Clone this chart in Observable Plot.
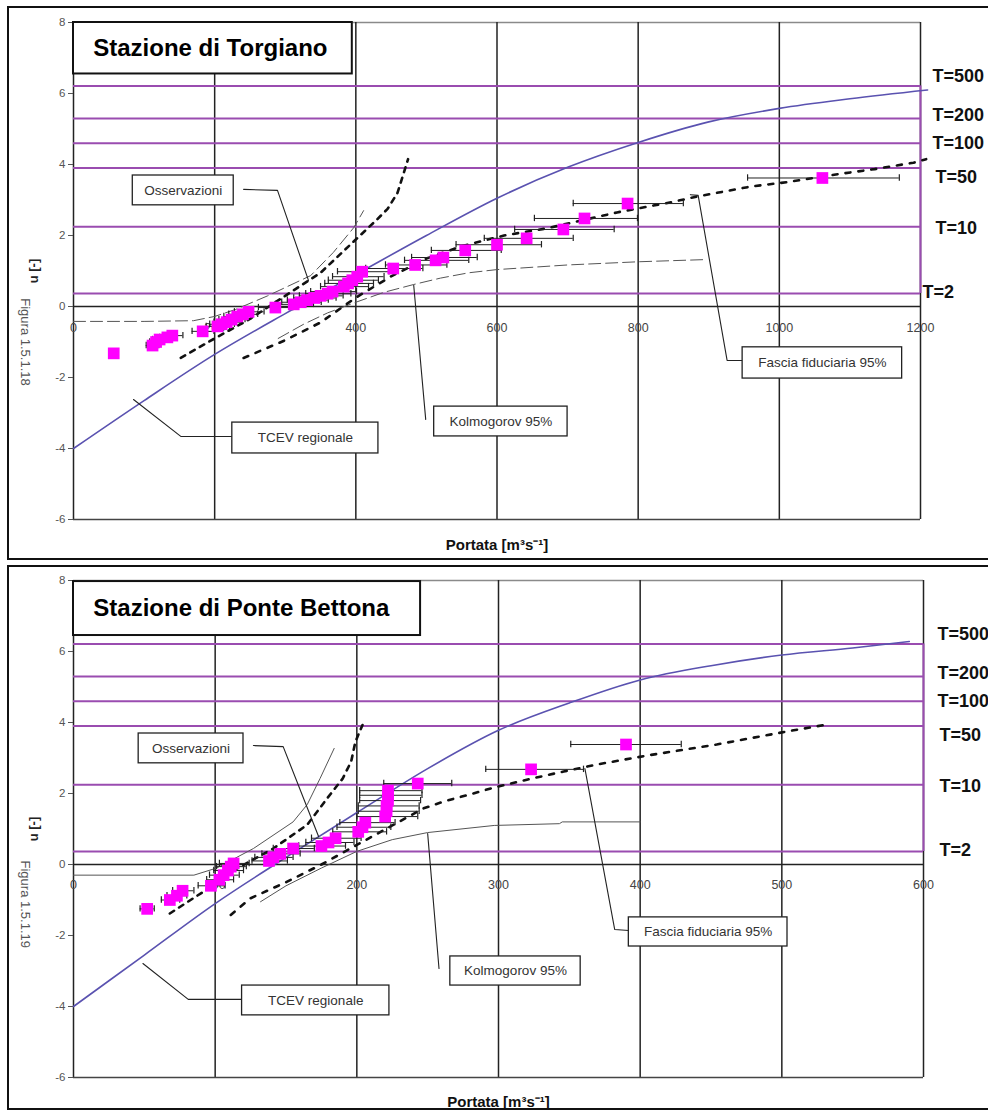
<!DOCTYPE html>
<html><head><meta charset="utf-8">
<script src="https://cdn.jsdelivr.net/npm/d3@7"></script>
<script src="https://cdn.jsdelivr.net/npm/@observablehq/plot@0.6"></script>
<style>
html,body{margin:0;padding:0;background:#fff;width:988px;height:1110px;overflow:hidden;}
#wrap{position:relative;width:988px;height:1110px;overflow:hidden;}
.frame{position:absolute;border:2px solid #111;box-sizing:border-box;pointer-events:none;}
.panel{position:absolute;left:0;}
</style></head><body><div id="wrap"></div>
<script>
// ---------- shared ----------
const yTicks = [-6, -4, -2, 0, 2, 4, 6, 8];
const tNames = ["T=2", "T=10", "T=50", "T=100", "T=200", "T=500"];
const tU = [0.367, 2.25, 3.902, 4.600, 5.296, 6.214];       // Gumbel reduced variate of each T
const tLabelU = [0.4, 2.2, 3.65, 4.6, 5.38, 6.5];

// ---------- Torgiano ----------
const torgXTicks = [0, 200, 400, 600, 800, 1000, 1200];
const torgTcev = [[0,-4],[100,-2.65],[200,-1.35],[300,-0.2],[400,0.9],[500,2.0],[600,3.05],[700,3.92],[800,4.62],[900,5.2],[1000,5.58],[1100,5.85],[1210,6.1]];
const torgKolUp = [[0,-0.42],[100,-0.42],[170,-0.4],[200,-0.28],[230,-0.08],[275,0.3],[336,0.87],[368,1.52],[397,2.22],[411,2.7]];
const torgKolLo = [[290,-0.9],[326,-0.5],[360,-0.18],[400,0.12],[440,0.4],[482,0.62],[520,0.8],[560,0.95],[600,1.04],[700,1.17],[800,1.26],[893,1.32]];
const torgFasUp = [[152,-1.45],[200,-0.9],[250,-0.35],[300,0.3],[350,0.95],[406,2.0],[430,2.45],[445,2.75],[459,3.2],[474,4.15]];
const torgFasLo = [[241,-1.45],[300,-0.95],[350,-0.45],[400,0.25],[450,0.85],[500,1.35],[550,1.7],[610,2.0],[670,2.2],[770,2.65],[850,2.95],[884,3.1],[960,3.38],[1010,3.5],[1080,3.72],[1135,3.87],[1190,4.05],[1208,4.15]];
const torgQ  = [57,112,117,122,133,140,183,204,210,217,224,232,240,248,286,312,322,331,341,350,360,367,383,389,395,402,409,453,484,513,524,555,600,642,694,724,785,1061];
const torgU  = [-1.32,-1.1,-1.0,-0.93,-0.87,-0.82,-0.7,-0.56,-0.5,-0.44,-0.37,-0.28,-0.22,-0.15,-0.03,0.06,0.12,0.18,0.24,0.3,0.36,0.42,0.56,0.65,0.74,0.84,0.98,1.07,1.17,1.3,1.38,1.58,1.74,1.92,2.17,2.48,2.9,3.62];
const torgLo = [53,103,108,112,122,128,168,188,193,199,206,213,220,228,262,286,295,303,312,320,329,336,350,356,361,367,374,414,442,469,479,507,542,582,625,653,708,955];
const torgHi = [61,121,127,132,145,155,199,221,228,236,243,252,261,270,311,340,351,361,372,382,393,401,418,425,432,440,447,495,529,560,572,606,663,708,766,799,864,1170];

// ---------- Ponte Bettona ----------
const betXTicks = [0, 100, 200, 300, 400, 500, 600];
const betTcev = [[0,-4],[50,-2.55],[100,-1.1],[150,0.2],[200,1.46],[250,2.7],[300,3.78],[350,4.55],[400,5.2],[450,5.6],[500,5.9],[550,6.1],[590,6.28]];
const betKolUp = [[0,-0.3],[85,-0.3],[101,-0.1],[127,0.45],[155,1.2],[165,1.69],[174,2.42],[184,3.27]];
const betKolLo = [[132,-1.05],[150,-0.6],[175,-0.1],[200,0.37],[225,0.7],[250,0.9],[297,1.1],[343,1.15],[345,1.2],[400,1.2]];
const betFasUp = [[68,-1.38],[95,-0.68],[116,-0.1],[141,0.45],[165,1.12],[179,1.86],[190,2.42],[196,2.9],[199,3.46],[204,3.93]];
const betFasLo = [[111,-1.42],[125,-0.95],[150,-0.5],[175,0.0],[200,0.55],[225,1.1],[247,1.58],[261,1.77],[282,2.0],[297,2.17],[320,2.39],[346,2.62],[370,2.82],[405,3.07],[454,3.38],[504,3.75],[530,3.93]];
const betQ  = [52,68,73,77,97,103,106,109,111,113,138,141,146,155,175,180,185,201,204,206,220,221,221,222,222,222,243,323,390];
const betU  = [-1.25,-1.0,-0.88,-0.74,-0.6,-0.43,-0.3,-0.17,-0.06,0.03,0.1,0.2,0.3,0.45,0.52,0.62,0.74,0.92,1.05,1.18,1.35,1.5,1.65,1.8,1.95,2.08,2.28,2.68,3.38];
const betLo = [47,62,66,70,88,94,96,99,101,103,126,128,133,141,159,164,168,183,186,188,200,201,201,202,202,202,219,291,351];
const betHi = [57,75,80,85,107,113,117,120,122,124,151,155,160,170,192,198,203,221,224,227,243,244,244,245,246,246,267,360,429];

// ---------- styles ----------
const FONT = "'Liberation Sans', Arial, Helvetica, sans-serif";
const PURPLE = "#9a4cb0";
const BLUE = "#5a52b0";
const MAGENTA = "#ff00ff";

const zip = (q, u, lo, hi) => q.map((x, i) => ({x, y: u[i], lo: lo[i], hi: hi[i]}));

const panels = [
  {
    top: 0, height: 559, mt: 22, mb: 40, mr: 68, xMax: 1200, xTicks: torgXTicks, xLabDy: 21, portDy: 26,
    title: "Stazione di Torgiano", titleBox: {x1: 0, x2: 395, y1: 6.55, y2: 8}, titleX: 28,
    figura: "Figura 1.5.1.18", figY: -1.0,
    tcev: torgTcev, kolUp: torgKolUp, kolLo: torgKolLo, fasUp: torgFasUp, fasLo: torgFasLo,
    pts: zip(torgQ, torgU, torgLo, torgHi), kolDash: "12,5",
    tDx: [2, 15, 15, 12, 12, 12],
    notes: [
      {label: "Osservazioni", x1: 84, x2: 227, y1: 2.85, y2: 3.69},
      {label: "TCEV regionale", x1: 225, x2: 432, y1: -4.14, y2: -3.27},
      {label: "Kolmogorov 95%", x1: 511, x2: 700, y1: -3.66, y2: -2.82},
      {label: "Fascia fiduciaria 95%", x1: 948, x2: 1174, y1: -2.03, y2: -1.15}
    ],
    leaders: [
      [[241,3.3],[289,3.27],[333,0.73]],
      [[85,-2.62],[152,-3.66],[225,-3.66]],
      [[482,0.6],[499,-3.18]],
      [[874,3.15],[885,3.13],[926,-1.52],[948,-1.52]]
    ]
  },
  {
    top: 559, height: 551, mt: 21, mb: 33, mr: 65, xMax: 600, xTicks: betXTicks, xLabDy: 20, portDy: 25,
    title: "Stazione di Ponte Bettona", titleBox: {x1: 0, x2: 245, y1: 6.45, y2: 7.97}, titleX: 14,
    figura: "Figura 1.5.1.19", figY: -1.12,
    tcev: betTcev, kolUp: betKolUp, kolLo: betKolLo, fasUp: betFasUp, fasLo: betFasLo,
    pts: zip(betQ, betU, betLo, betHi), kolDash: null,
    tDx: [16, 16, 16, 14, 14, 14],
    notes: [
      {label: "Osservazioni", x1: 46, x2: 120, y1: 2.85, y2: 3.69},
      {label: "TCEV regionale", x1: 119, x2: 223, y1: -4.25, y2: -3.41},
      {label: "Kolmogorov 95%", x1: 266, x2: 358, y1: -3.41, y2: -2.59},
      {label: "Fascia fiduciaria 95%", x1: 392, x2: 504, y1: -2.31, y2: -1.49}
    ],
    leaders: [
      [[127,3.35],[148,3.32],[173,0.79]],
      [[49,-2.79],[81,-3.8],[119,-3.8]],
      [[250,0.87],[258,-2.93]],
      [[361,2.7],[382,-1.83],[392,-1.86]]
    ]
  }
];

const wrap = document.getElementById("wrap");

for (const c of panels) {
  const marks = [
    Plot.ruleY([8], {x1: 0, x2: c.xMax, stroke: "#8a8a8a", strokeWidth: 1.5}),
    Plot.ruleX(c.xTicks, {y1: -6, y2: 8, stroke: "#222", strokeWidth: 1.5}),
    Plot.ruleY([0], {x1: 0, x2: c.xMax, stroke: "#222", strokeWidth: 1.5}),
    Plot.ruleY([-6], {x1: 0, x2: c.xMax, stroke: "#444", strokeWidth: 1.5}),
    Plot.ruleY(tU, {x1: 0, x2: c.xMax, stroke: PURPLE, strokeWidth: 2}),
    Plot.ruleX([c.xMax], {y1: tU[0], y2: tU[5], stroke: PURPLE, strokeWidth: 2}),
    Plot.axisY({ticks: yTicks, tickSize: 5, tickPadding: 3, fontSize: 11.5, color: "#555", label: null, tickFormat: (d) => String(d)}),
    Plot.text(c.xTicks, {x: (d) => d, y: () => 0, dy: c.xLabDy, text: (d) => String(d), fontSize: 12.5, fill: "#444"}),
    // Kolmogorov 95% band
    Plot.line(c.kolUp, {x: (p) => p[0], y: (p) => p[1], stroke: "#555", strokeWidth: 1, strokeDasharray: c.kolDash}),
    Plot.line(c.kolLo, {x: (p) => p[0], y: (p) => p[1], stroke: "#555", strokeWidth: 1, strokeDasharray: c.kolDash}),
    // dashed curves
    Plot.line(c.fasUp, {x: (p) => p[0], y: (p) => p[1], stroke: "#111", strokeWidth: 2.6, strokeDasharray: "5,6"}),
    Plot.line(c.fasLo, {x: (p) => p[0], y: (p) => p[1], stroke: "#111", strokeWidth: 2.6, strokeDasharray: "5,8"}),
    // TCEV regionale
    Plot.line(c.tcev, {x: (p) => p[0], y: (p) => p[1], stroke: BLUE, strokeWidth: 1.6, curve: "monotone-x"}),
    // error bars
    Plot.ruleY(c.pts, {y: "y", x1: "lo", x2: "hi", stroke: "#222", strokeWidth: 1}),
    Plot.ruleX(c.pts, {x: "lo", y1: (d) => d.y - 0.09, y2: (d) => d.y + 0.09, stroke: "#222", strokeWidth: 1.2}),
    Plot.ruleX(c.pts, {x: "hi", y1: (d) => d.y - 0.09, y2: (d) => d.y + 0.09, stroke: "#222", strokeWidth: 1.2}),
    // observations
    Plot.dot(c.pts, {x: "x", y: "y", symbol: "square", r: 6.6, fill: MAGENTA, stroke: "none"}),
    // leaders
    ...c.leaders.map((l) => Plot.line(l, {x: (p) => p[0], y: (p) => p[1], stroke: "#222", strokeWidth: 1.1})),
    // annotation boxes
    Plot.rect(c.notes, {x1: "x1", x2: "x2", y1: "y1", y2: "y2", fill: "white", stroke: "#222", strokeWidth: 1.3}),
    Plot.text(c.notes, {x: (d) => (d.x1 + d.x2) / 2, y: (d) => (d.y1 + d.y2) / 2, text: "label", fontSize: 13.5, fill: "#333"}),
    // title box
    Plot.rect([c.titleBox], {x1: "x1", x2: "x2", y1: "y1", y2: "y2", fill: "white", stroke: "#111", strokeWidth: 2}),
    Plot.text([c.title], {x: () => c.titleX, y: () => (c.titleBox.y1 + c.titleBox.y2) / 2, text: (d) => d, textAnchor: "start", fontSize: 24, fontWeight: "bold", fill: "#000"}),
    // T labels
    ...tNames.map((t, i) => Plot.text([t], {x: () => c.xMax, y: () => tLabelU[i], dx: c.tDx[i], text: (d) => d, textAnchor: "start", fontSize: 18, fontWeight: "bold", fill: "#111"})),
    // axis titles
    Plot.text(["u [-]"], {x: () => 0, y: () => 1.0, dx: -40, rotate: -90, text: (d) => d, fontSize: 13, fontWeight: "bold", fill: "#222"}),
    Plot.text([c.figura], {x: () => 0, y: () => c.figY, dx: -48, rotate: 90, text: (d) => d, fontSize: 13, fill: "#555"}),
    Plot.text(["Portata [m³s⁻¹]"], {x: () => c.xMax / 2, y: () => -6, dy: c.portDy, text: (d) => d, fontSize: 15, fontWeight: "bold", fill: "#111"})
  ];
  const svg = Plot.plot({
    width: 988, height: c.height,
    marginTop: c.mt, marginBottom: c.mb, marginLeft: 73, marginRight: c.mr,
    x: {domain: [0, c.xMax], axis: null},
    y: {domain: [-6, 8], axis: null},
    style: {fontFamily: FONT, background: "transparent", overflow: "visible"},
    marks
  });
  const holder = document.createElement("div");
  holder.className = "panel";
  holder.style.top = c.top + "px";
  holder.appendChild(svg);
  wrap.appendChild(holder);
}

// panel frames
for (const f of [{top: 6, height: 554}, {top: 565, height: 545}]) {
  const d = document.createElement("div");
  d.className = "frame";
  d.style.left = "7px"; d.style.top = f.top + "px";
  d.style.width = "1000px"; d.style.height = f.height + "px";
  wrap.appendChild(d);
}
</script>
</body></html>
